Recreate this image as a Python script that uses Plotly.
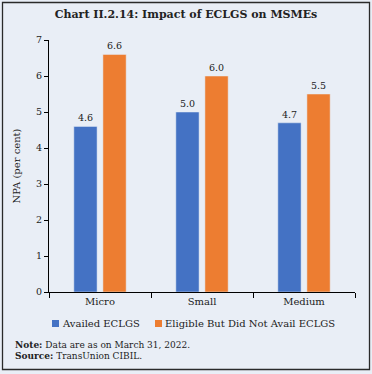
import plotly.graph_objects as go

categories = ["Micro", "Small", "Medium"]
availed = [4.6, 5.0, 4.7]
not_availed = [6.6, 6.0, 5.5]
series_names = ["Availed ECLGS", "Eligible But Did Not Avail ECLGS"]
series_colors = ["#4472c4", "#ed7d31"]
y_ticks = [0, 1, 2, 3, 4, 5, 6, 7]

BG = "#e9eef6"
FONT = "DejaVu Serif"
W, H = 372, 374
L, R, T, B = 49, 17, 40, 82
pw, ph = W - L - R, H - T - B

def px_x(px):
    return (px - L) / pw

def px_y(py):
    return (H - B - py) / ph

fig = go.Figure()
for vals, name, color in zip([availed, not_availed], series_names, series_colors):
    fig.add_trace(go.Bar(x=categories, y=vals, name=name,
                         marker_color=color, text=[f"{v:.1f}" for v in vals],
                         textposition="outside", cliponaxis=False,
                         textfont=dict(family=FONT, size=9.5, color="#222")))

fig.update_layout(
    width=W, height=H,
    margin=dict(l=L, r=R, t=T, b=B, autoexpand=False),
    paper_bgcolor=BG, plot_bgcolor=BG,
    font=dict(family=FONT, size=9.5, color="#222"),
    barmode="group", bargap=0.43, bargroupgap=0.2,
    showlegend=False,
    title=dict(text="<b>Chart II.2.14: Impact of ECLGS on MSMEs</b>",
               x=0.5, xanchor="center", xref="container", y=1 - 14 / H, yanchor="middle",
               font=dict(family=FONT, size=11, color="#222")),
)
fig.update_xaxes(showline=True, linecolor="#000", linewidth=1, ticks="outside",
                 tickson="boundaries", ticklen=5, tickcolor="#000", automargin=False,
                 tickfont=dict(family=FONT, size=10), showgrid=False)
fig.update_yaxes(range=[0, 7], tickvals=y_ticks, showline=True, linecolor="#000",
                 linewidth=1, ticks="outside", ticklen=4, tickcolor="#000",
                 showgrid=False, zeroline=False, automargin=False,
                 tickfont=dict(family=FONT, size=9.5),
                 title=dict(text="NPA (per cent)", font=dict(family=FONT, size=10), standoff=13))

# legend (manual, compact like reference)
legend_x = [52, 155]
for lx, name, color in zip(legend_x, series_names, series_colors):
    fig.add_shape(type="rect", xref="paper", yref="paper",
                  x0=px_x(lx), x1=px_x(lx + 7), y0=px_y(327), y1=px_y(320),
                  line=dict(width=0), fillcolor=color)
    fig.add_annotation(text=name, xref="paper", yref="paper",
                       x=px_x(lx + 7.5), y=px_y(323.5), xanchor="left", yanchor="middle",
                       showarrow=False, font=dict(family=FONT, size=10, color="#222"))

fig.add_shape(type="rect", xref="paper", yref="paper",
              x0=px_x(2.5), x1=px_x(369.5), y0=px_y(369.5), y1=px_y(2.5),
              line=dict(color="#2a2a2a", width=1.3), fillcolor="rgba(0,0,0,0)", layer="above")

fig.add_annotation(text="<b>Note:</b> Data are as on March 31, 2022.",
                   xref="paper", yref="paper", x=px_x(13), y=px_y(345),
                   xanchor="left", yanchor="middle", showarrow=False,
                   font=dict(family=FONT, size=9, color="#222"))
fig.add_annotation(text="<b>Source:</b> TransUnion CIBIL.",
                   xref="paper", yref="paper", x=px_x(13), y=px_y(356),
                   xanchor="left", yanchor="middle", showarrow=False,
                   font=dict(family=FONT, size=9, color="#222"))

fig.write_html("out.html", config={"displayModeBar": False},
               post_script="document.body.style.margin='0px';")
